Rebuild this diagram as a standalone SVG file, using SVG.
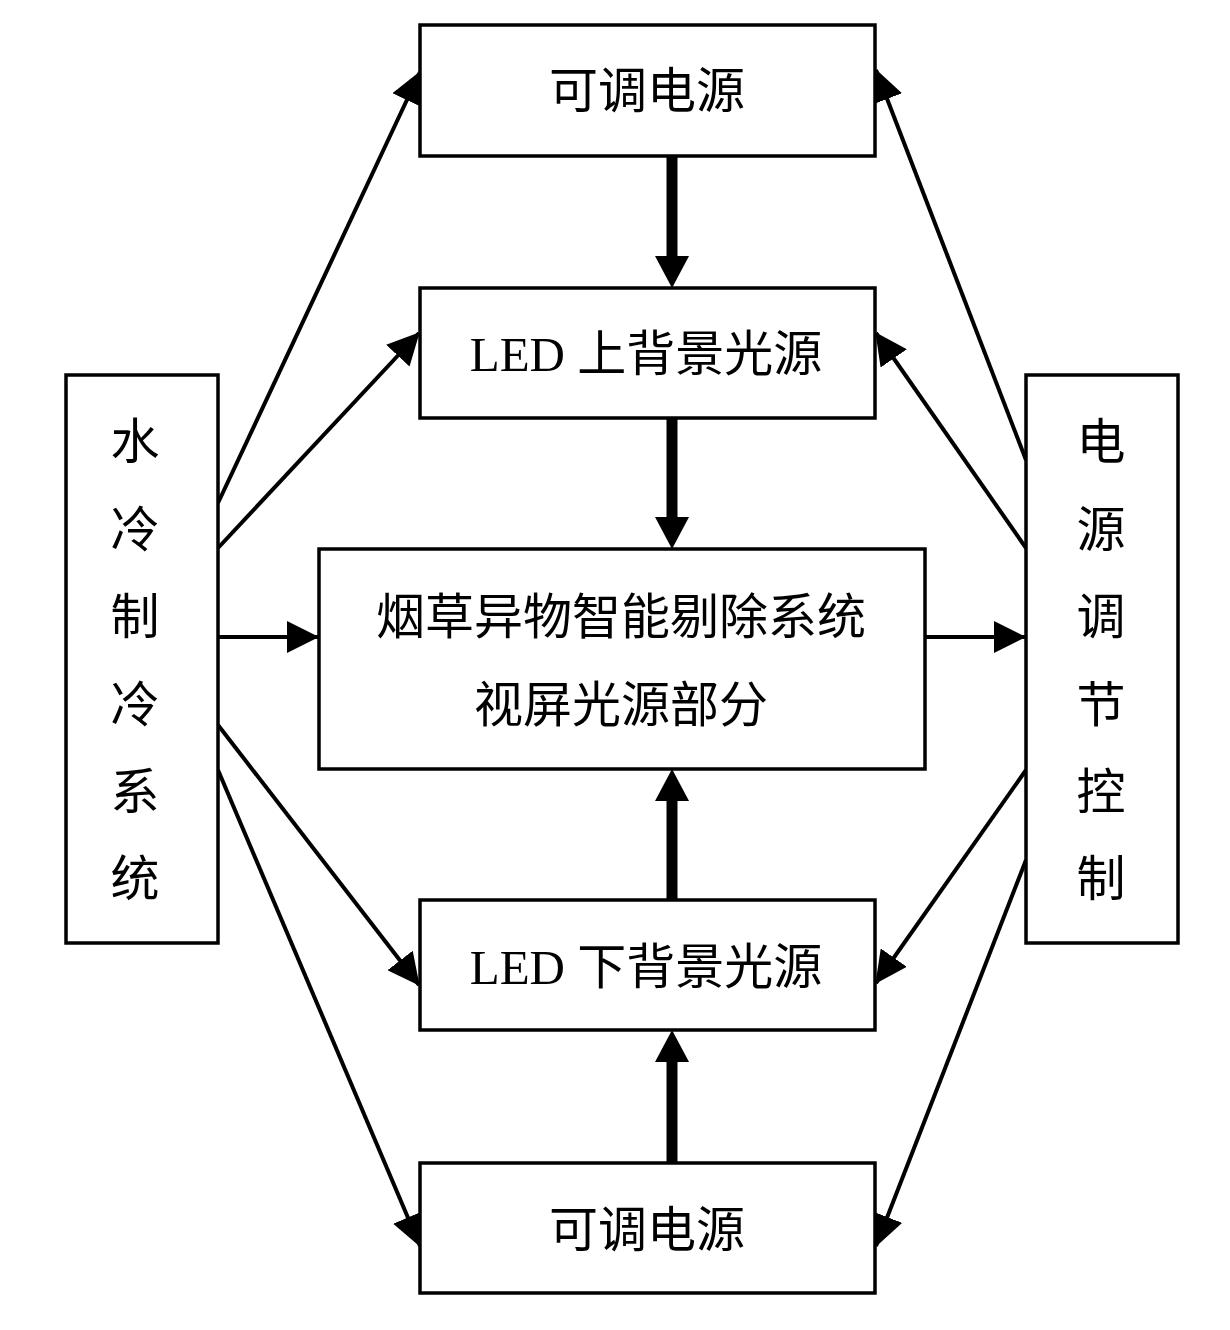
<svg xmlns="http://www.w3.org/2000/svg" width="1230" height="1330" viewBox="0 0 1230 1330">
  <style>
    .box { fill: #ffffff; stroke: #000000; stroke-width: 3.5; }
    .thin { stroke: #000000; stroke-width: 4; fill: none; marker-end: url(#head); }
    .thick { stroke: #000000; stroke-width: 11; fill: none; marker-end: url(#bighead); }
    .label { font-family: "Liberation Serif", "Noto Sans CJK SC", serif; font-size: 49px; fill: #000000; text-anchor: middle; }
  </style>
  <defs>
    <marker id="head" viewBox="0 0 32 32" refX="31" refY="16" markerWidth="32" markerHeight="32" markerUnits="userSpaceOnUse" orient="auto">
      <path d="M0,0 L32,16 L0,32 Z" fill="#000000"/>
    </marker>
    <marker id="bighead" viewBox="0 0 32 34" refX="4" refY="17" markerWidth="32" markerHeight="34" markerUnits="userSpaceOnUse" orient="auto">
      <path d="M0,0 L32,17 L0,34 Z" fill="#000000"/>
    </marker>
  </defs>
  <rect width="1230" height="1330" fill="#ffffff"/>

  <g id="connectors">
    <line class="thin" x1="218" y1="503" x2="420" y2="72"/>
    <line class="thin" x1="218" y1="548" x2="419" y2="333"/>
    <line class="thin" x1="218" y1="637" x2="318" y2="637"/>
    <line class="thin" x1="218" y1="725" x2="419" y2="985"/>
    <line class="thin" x1="218" y1="770" x2="420" y2="1246"/>
    <line class="thin" x1="1026" y1="460" x2="876" y2="70"/>
    <line class="thin" x1="1026" y1="548" x2="876" y2="333"/>
    <line class="thin" x1="925" y1="637" x2="1025" y2="637"/>
    <line class="thin" x1="1026" y1="770" x2="876" y2="983"/>
    <line class="thin" x1="1026" y1="860" x2="876" y2="1246"/>
    <line class="thick" x1="672" y1="156" x2="672" y2="260"/>
    <line class="thick" x1="672" y1="418" x2="672" y2="521"/>
    <line class="thick" x1="672" y1="900" x2="672" y2="797"/>
    <line class="thick" x1="672" y1="1163" x2="672" y2="1058"/>
  </g>

  <g id="power-top">
    <rect class="box" x="420" y="25" width="455" height="131"/>
    <text class="label" x="647" y="108">可调电源</text>
  </g>
  <g id="led-upper">
    <rect class="box" x="420" y="288" width="455" height="130"/>
    <text class="label" x="646" y="371">LED 上背景光源</text>
  </g>
  <g id="center-system">
    <rect class="box" x="319" y="549" width="606" height="220"/>
    <text class="label" x="621" y="634">烟草异物智能剔除系统</text>
    <text class="label" x="621" y="722">视屏光源部分</text>
  </g>
  <g id="led-lower">
    <rect class="box" x="420" y="900" width="455" height="130"/>
    <text class="label" x="646" y="984">LED 下背景光源</text>
  </g>
  <g id="power-bottom">
    <rect class="box" x="420" y="1163" width="455" height="130"/>
    <text class="label" x="647" y="1247">可调电源</text>
  </g>
  <g id="water-cooling">
    <rect class="box" x="66" y="375" width="152" height="568"/>
    <text class="label" x="135" y="459">水</text>
    <text class="label" x="135" y="547">冷</text>
    <text class="label" x="135" y="634">制</text>
    <text class="label" x="135" y="722">冷</text>
    <text class="label" x="135" y="809">系</text>
    <text class="label" x="135" y="896">统</text>
  </g>
  <g id="power-control">
    <rect class="box" x="1026" y="375" width="152" height="568"/>
    <text class="label" x="1101" y="459">电</text>
    <text class="label" x="1101" y="547">源</text>
    <text class="label" x="1101" y="634">调</text>
    <text class="label" x="1101" y="722">节</text>
    <text class="label" x="1101" y="809">控</text>
    <text class="label" x="1101" y="896">制</text>
  </g>
</svg>
